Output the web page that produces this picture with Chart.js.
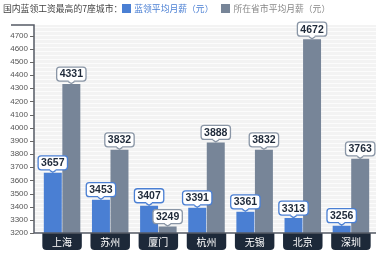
<!DOCTYPE html>
<html><head><meta charset="utf-8">
<script src="https://cdn.jsdelivr.net/npm/chart.js@4/dist/chart.umd.min.js"></script>
<style>
html,body{margin:0;padding:0;background:#fff;}
#wrap{position:relative;width:380px;height:253px;}
#ttl{position:absolute;left:3px;top:1px;font:8.8px "Noto Sans CJK SC",sans-serif;color:#444;white-space:nowrap;line-height:15px;}
.sq{display:inline-block;width:9px;height:9px;vertical-align:-1px;margin:0 3px 0 0;}
</style></head>
<body><div id="wrap"><canvas id="c" width="380" height="253"></canvas>
<div id="ttl">国内蓝领工资最高的7座城市：<span class="sq" style="background:#4a7fd3"></span><span style="color:#4a7fd3">蓝领平均月薪（元）</span><span style="display:inline-block;width:8px"></span><span class="sq" style="background:#778598"></span><span style="color:#888">所在省市平均月薪（元）</span></div>
</div>
<script>
const cities = ['上海','苏州','厦门','杭州','无锡','北京','深圳'];
const blueCollar = [3657,3453,3407,3391,3361,3313,3256];
const provinceAvg = [4331,3832,3249,3888,3832,4672,3763];
const seriesNames = ['蓝领平均月薪（元）','所在省市平均月薪（元）'];
const yTicks = {min:3200, max:4700, step:100};

const BLUE='#4a7fd3', GRAY='#778598', NAVY='#1d2939';

function rr(ctx,x,y,w,h,r){ctx.beginPath();ctx.moveTo(x+r,y);ctx.lineTo(x+w-r,y);ctx.quadraticCurveTo(x+w,y,x+w,y+r);ctx.lineTo(x+w,y+h-r);ctx.quadraticCurveTo(x+w,y+h,x+w-r,y+h);ctx.lineTo(x+r,y+h);ctx.quadraticCurveTo(x,y+h,x,y+h-r);ctx.lineTo(x,y+r);ctx.quadraticCurveTo(x,y,x+r,y);ctx.closePath();}

const deco = {
  id:'deco',
  beforeDraw(chart){
    const ctx=chart.ctx, a=chart.chartArea, xs=chart.scales.x;
    ctx.save();
    const axX=34, topY=25;
    ctx.fillStyle='#f3f3f3';
    ctx.fillRect(axX,topY,a.right+1-axX,a.bottom-topY);
    ctx.strokeStyle='rgba(255,255,255,0.7)';ctx.lineWidth=1;
    for(let y=topY+2;y<a.bottom;y+=4){ctx.beginPath();ctx.moveTo(axX,y+0.5);ctx.lineTo(a.right+1,y+0.5);ctx.stroke();}
    const cw=(xs.getPixelForValue(1)-xs.getPixelForValue(0));
    cities.forEach((c,i)=>{
      const cx=xs.getPixelForValue(i), w=cw*0.82;
      ctx.fillStyle=NAVY;
      ctx.beginPath();
      const x0=cx-w/2, y0=a.bottom, h=17, r=4;
      ctx.moveTo(x0,y0);ctx.lineTo(x0+w,y0);ctx.lineTo(x0+w,y0+h-r);ctx.quadraticCurveTo(x0+w,y0+h,x0+w-r,y0+h);ctx.lineTo(x0+r,y0+h);ctx.quadraticCurveTo(x0,y0+h,x0,y0+h-r);ctx.closePath();ctx.fill();
    });
    ctx.restore();
  },
  afterDatasetsDraw(chart){
    const ctx=chart.ctx, a=chart.chartArea, ys=chart.scales.y;
    ctx.save();
    const axX=34, topY=25;
    ctx.strokeStyle='#555b66';ctx.lineWidth=1.5;
    ctx.beginPath();ctx.moveTo(11,topY);ctx.lineTo(axX,topY);ctx.lineTo(axX,a.bottom);ctx.lineTo(a.right+1,a.bottom);ctx.stroke();
    ctx.lineWidth=1;ctx.strokeStyle='#666';
    for(let v=yTicks.min;v<=yTicks.max;v+=yTicks.step){const y=Math.round(ys.getPixelForValue(v))+0.5;ctx.beginPath();ctx.moveTo(30,y);ctx.lineTo(axX,y);ctx.stroke();}
    ctx.font='bold 10.5px "Liberation Sans", Arial, sans-serif';
    ctx.textAlign='center';ctx.textBaseline='middle';
    chart.data.datasets.forEach((ds,di)=>{
      const meta=chart.getDatasetMeta(di);
      meta.data.forEach((bar,i)=>{
        const txt=String(ds.data[i]);
        const tw=ctx.measureText(txt).width;
        const w=tw+6, h=14, x=bar.x, bottom=bar.y-3, top=bottom-h;
        ctx.fillStyle='#fff';ctx.strokeStyle=di===0?BLUE:'#8a96a6';ctx.lineWidth=1.3;
        rr(ctx,x-w/2,top,w,h,3);ctx.fill();ctx.stroke();
        ctx.beginPath();ctx.moveTo(x-3,bottom-0.5);ctx.lineTo(x,bottom+2.5);ctx.lineTo(x+3,bottom-0.5);ctx.closePath();ctx.fill();
        ctx.beginPath();ctx.moveTo(x-3,bottom+0.6);ctx.lineTo(x,bottom+2.5);ctx.lineTo(x+3,bottom+0.6);ctx.stroke();
        ctx.fillStyle='#fff';ctx.fillRect(x-2.5,bottom-1.5,5,1.6);
        ctx.fillStyle='#1f2a3a';ctx.fillText(txt,x,top+h/2+0.5);
      });
    });
    ctx.restore();
  }
};

new Chart(document.getElementById('c'),{
  type:'bar',
  data:{labels:cities,datasets:[
    {label:seriesNames[0],data:blueCollar,backgroundColor:BLUE,categoryPercentage:0.77,barPercentage:0.97},
    {label:seriesNames[1],data:provinceAvg,backgroundColor:GRAY,categoryPercentage:0.77,barPercentage:0.97}
  ]},
  options:{
    responsive:false,animation:false,devicePixelRatio:1,
    layout:{padding:{top:35.5,right:5,left:0,bottom:0}},
    plugins:{legend:{display:false},tooltip:{enabled:false},title:{display:false}},
    scales:{
      x:{grid:{display:false,drawTicks:false},border:{display:false},
         ticks:{color:'#fff',padding:3,font:{size:10,family:'"Noto Sans CJK SC"'},maxRotation:0,autoSkip:false},
         afterFit(s){s.height=20;}},
      y:{min:yTicks.min,max:yTicks.max,grid:{display:false,drawTicks:false},border:{display:false},
         ticks:{stepSize:yTicks.step,padding:10,color:'#555',font:{size:8,family:'"Liberation Sans", Arial'},callback:(v)=>String(v)},
         afterFit(s){s.width=38;}}
    }
  },
  plugins:[deco]
});
</script></body></html>
